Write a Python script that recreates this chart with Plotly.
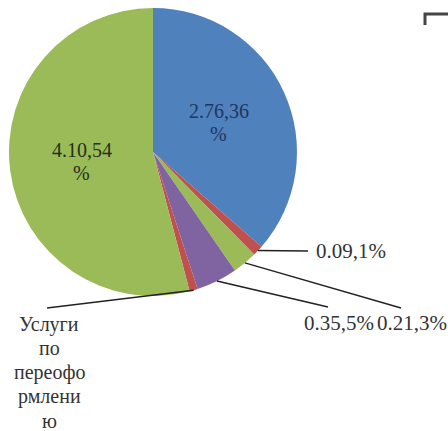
import math
import plotly.graph_objects as go

W, H = 448, 431

# slice data, clockwise from 12 o'clock
values = [2.76, 0.09, 0.21, 0.35, 0.07, 4.10]
colors = ["#4F81BD", "#C0504D", "#9BBB59", "#8064A2", "#C0504D", "#9BBB59"]
label_lines = [["2.76,36", "%"], ["0.09,1%"], ["0.21,3%"], ["0.35,5%"],
               ["Услуги", "по", "переофо", "рмлени", "ю"], ["4.10,54", "%"]]
inside = [True, False, False, False, False, True]
inside_color = ["#1F3560", None, None, None, None, "#24301A"]

# label layout (pixels): first line centre, anchor, font size, leader end point
out_pos = {1: (314, 251, "left", 21, (308, 251)),
           2: (375, 323, "left", 21, (401, 308)),
           3: (302, 323, "left", 21, (328, 307)),
           4: (49, 324, "center", 20, (47, 308))}
LINE_H = 24.2

CX, CY, R = 153, 152, 144


def px(x):
    return x / W


def py(y):
    return 1 - y / H


fig = go.Figure(go.Pie(
    values=values,
    marker=dict(colors=colors, line=dict(width=0)),
    sort=False, direction="clockwise", rotation=0,
    textinfo="none", hoverinfo="skip",
    domain=dict(x=[px(CX - R), px(CX + R)], y=[py(CY + R), py(CY - R)]),
))

total = sum(values)
cum = 0
font = "Times New Roman, serif"
for i, v in enumerate(values):
    mid = (cum + v / 2) / total * 2 * math.pi
    cum += v
    lines = label_lines[i]
    if inside[i]:
        x = CX + 0.5 * R * math.sin(mid)
        y0 = CY - 0.5 * R * math.cos(mid) - (len(lines) - 1) * 23 / 2
        for k, t in enumerate(lines):
            fig.add_annotation(x=px(x), y=py(y0 + k * 23), xref="paper", yref="paper",
                               text=t, showarrow=False, xanchor="center", yanchor="middle",
                               font=dict(family=font, size=20, color=inside_color[i]))
    else:
        tx, ty, xa, fs, (ex, ey) = out_pos[i]
        sx = CX + R * math.sin(mid)
        sy = CY - R * math.cos(mid)
        fig.add_shape(type="line", xref="paper", yref="paper",
                      x0=px(sx), y0=py(sy), x1=px(ex), y1=py(ey),
                      line=dict(color="#222222", width=1.5))
        for k, t in enumerate(lines):
            fig.add_annotation(x=px(tx), y=py(ty + k * LINE_H), xref="paper", yref="paper",
                               text=t, showarrow=False, xanchor=xa, yanchor="middle",
                               font=dict(family=font, size=fs, color="#333333"))

# corner of the legend frame, top right
fig.add_shape(type="path", xref="paper", yref="paper",
              path=f"M {px(425)} {py(25)} L {px(425)} {py(14)} L {px(448)} {py(14)}",
              line=dict(color="#444444", width=3))

fig.update_layout(width=W, height=H, margin=dict(l=0, r=0, t=0, b=0),
                  font=dict(family=font),
                  paper_bgcolor="white", plot_bgcolor="white", showlegend=False)
fig.write_html("out.html", config={"displayModeBar": False},
               post_script="document.body.style.margin='0';")
